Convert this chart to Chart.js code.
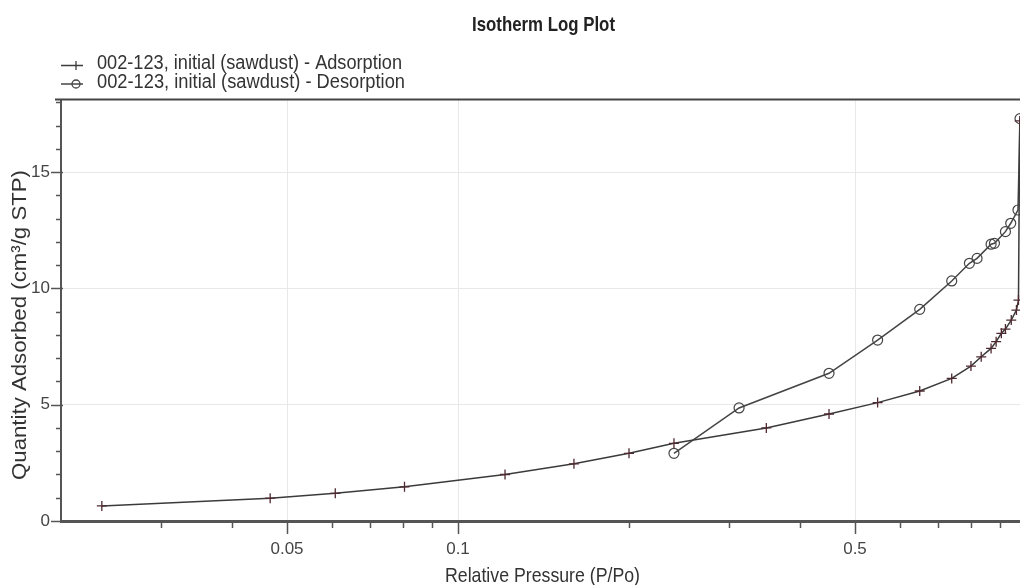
<!DOCTYPE html>
<html>
<head>
<meta charset="utf-8">
<script src="https://cdn.jsdelivr.net/npm/chart.js@4.4.1/dist/chart.umd.min.js"></script>
<style>
html,body{margin:0;padding:0;background:#fff;}
#wrap{width:1020px;height:585px;position:relative;}
</style>
</head>
<body>
<div id="wrap"><canvas id="c" width="1020" height="585"></canvas></div>
<script>
// ---------- data ----------
const chartTitle = 'Isotherm Log Plot';
const xAxisTitle = 'Relative Pressure (P/Po)';
const yAxisTitle = 'Quantity Adsorbed (cm³/g STP)';
const seriesNames = ['002-123, initial (sawdust) - Adsorption', '002-123, initial (sawdust) - Desorption'];

const adsorptionP = [0.0236, 0.0467, 0.0608, 0.0805, 0.121, 0.160, 0.200, 0.240, 0.349, 0.450, 0.548, 0.650, 0.740, 0.800, 0.834, 0.868, 0.886, 0.905, 0.920, 0.942, 0.962, 0.970, 0.975];
const adsorptionQ = [0.65, 0.98, 1.19, 1.47, 2.00, 2.46, 2.91, 3.34, 4.00, 4.60, 5.09, 5.59, 6.13, 6.66, 7.06, 7.42, 7.71, 8.07, 8.25, 8.64, 9.07, 9.50, 17.2];

const desorptionP = [0.976, 0.968, 0.940, 0.920, 0.880, 0.868, 0.820, 0.795, 0.740, 0.650, 0.548, 0.450, 0.3125, 0.240];
const desorptionQ = [17.3, 13.37, 12.80, 12.44, 11.94, 11.90, 11.29, 11.08, 10.32, 9.10, 7.78, 6.35, 4.86, 2.91];

const xMajorTicks = [0.05, 0.1, 0.5];
const xMinorTicks = [0.03, 0.04, 0.06, 0.07, 0.08, 0.09, 0.2, 0.3, 0.4, 0.6, 0.7, 0.8, 0.9];
const yMajorTicks = [0, 5, 10, 15];
const yMinorTicks = [1, 2, 3, 4, 6, 7, 8, 9, 11, 12, 13, 14, 16, 17, 18];

// ---------- font helpers ----------
function hasFont(name) {
  const c = document.createElement('canvas').getContext('2d');
  const s = 'abcdefghijklmnopqrstuvwxyz0123456789';
  c.font = '20px monospace';
  const a = c.measureText(s).width;
  c.font = '20px "' + name + '", monospace';
  const b = c.measureText(s).width;
  return Math.abs(a - b) > 0.5;
}
const narrow = hasFont('Liberation Sans Narrow');
const tickFont = narrow ? {family: '"Liberation Sans Narrow", "Liberation Sans", Arial, sans-serif', size: 18}
                        : {family: '"Liberation Sans", Arial, sans-serif', size: 17};

function drawScaledText(ctx, text, o) {
  ctx.save();
  ctx.font = (o.bold ? 'bold ' : '') + o.size + 'px "Liberation Sans", Arial, sans-serif';
  const w = ctx.measureText(text).width;
  ctx.translate(o.x, o.y);
  if (o.rotate) ctx.rotate(o.rotate);
  ctx.scale(o.width / w, 1);
  ctx.textBaseline = 'alphabetic';
  ctx.textAlign = 'left';
  ctx.fillStyle = o.color || '#333';
  ctx.fillText(text, 0, 0);
  ctx.restore();
}

const decor = {
  id: 'decor',
  afterDraw(chart) {
    const ctx = chart.ctx;
    const xs = chart.scales.x, ys = chart.scales.y;
    const area = chart.chartArea;
    ctx.save();
    // top frame line
    ctx.strokeStyle = '#444';
    ctx.lineWidth = 2;
    ctx.beginPath();
    ctx.moveTo(55, area.top - 0.5);
    ctx.lineTo(chart.width, area.top - 0.5);
    ctx.stroke();
    // y tick marks
    ctx.strokeStyle = '#555';
    ctx.lineWidth = 1.5;
    yMajorTicks.concat(yMinorTicks).forEach(v => {
      const y = Math.round(ys.getPixelForValue(v)) + 0.5;
      const major = yMajorTicks.includes(v);
      ctx.beginPath();
      ctx.moveTo(area.left - (major ? 10 : 5), y);
      ctx.lineTo(area.left + (major ? 2 : 0), y);
      ctx.stroke();
    });
    // x tick marks
    xMajorTicks.concat(xMinorTicks).forEach(v => {
      const x = Math.round(xs.getPixelForValue(v)) + 0.5;
      const major = xMajorTicks.includes(v);
      ctx.beginPath();
      ctx.moveTo(x, area.bottom);
      ctx.lineTo(x, area.bottom + (major ? 13 : 7));
      ctx.stroke();
    });
    ctx.restore();

    // title
    drawScaledText(ctx, chartTitle, {x: 472, y: 30.5, size: 21, bold: true, width: 143, color: '#222'});
    // legend
    const rows = [{y: 65.5, text: seriesNames[0], w: 305, base: 68.5, marker: 'cross', color: '#3b3b3b'},
                  {y: 84, text: seriesNames[1], w: 308, base: 87.5, marker: 'circle', color: '#444'}];
    rows.forEach(r => {
      ctx.save();
      ctx.strokeStyle = r.color;
      ctx.lineWidth = 1.5;
      ctx.beginPath();
      ctx.moveTo(61, r.y);
      ctx.lineTo(83, r.y);
      ctx.stroke();
      ctx.lineWidth = 1.3;
      ctx.beginPath();
      if (r.marker === 'cross') {
        ctx.moveTo(76, r.y - 4.5);
        ctx.lineTo(76, r.y + 4.5);
      } else {
        ctx.arc(76, r.y, 4, 0, Math.PI * 2);
      }
      ctx.stroke();
      ctx.restore();
      drawScaledText(ctx, r.text, {x: 97, y: r.base, size: 19.5, width: r.w, color: '#333'});
    });
    // axis titles
    drawScaledText(ctx, xAxisTitle, {x: 445, y: 581.5, size: 21, width: 195, color: '#333'});
    drawScaledText(ctx, yAxisTitle, {x: 26, y: 480, size: 21, width: 310, rotate: -Math.PI / 2, color: '#333'});
  }
};

const adsData = adsorptionP.map((p, i) => ({x: p, y: adsorptionQ[i]}));
const desData = desorptionP.map((p, i) => ({x: p, y: desorptionQ[i]}));

new Chart(document.getElementById('c'), {
  type: 'scatter',
  data: {
    datasets: [
      {
        label: seriesNames[0],
        data: adsData,
        showLine: true,
        borderColor: '#3b3b3b',
        borderWidth: 1.5,
        pointStyle: 'cross',
        pointRadius: 5,
        pointBorderColor: '#4e2a30',
        pointBorderWidth: 1.3,
        pointBackgroundColor: 'rgba(0,0,0,0)',
        tension: 0
      },
      {
        label: seriesNames[1],
        data: desData,
        showLine: true,
        borderColor: '#444',
        borderWidth: 1.5,
        pointStyle: 'circle',
        pointRadius: 5,
        pointBorderColor: '#444',
        pointBorderWidth: 1.2,
        pointBackgroundColor: 'rgba(0,0,0,0)',
        tension: 0
      }
    ]
  },
  options: {
    responsive: false,
    devicePixelRatio: 1,
    animation: false,
    layout: {autoPadding: false, padding: {top: 100, left: 0, right: 0, bottom: 0}},
    plugins: {legend: {display: false}, title: {display: false}, tooltip: {enabled: false}},
    scales: {
      x: {
        type: 'logarithmic',
        min: 0.02,
        max: 0.976,
        afterBuildTicks: s => { s.ticks = xMajorTicks.map(v => ({value: v})); },
        afterFit: s => { s.height = 64; },
        ticks: {
          autoSkip: false, maxRotation: 0, padding: 18,
          color: '#444', font: tickFont,
          callback: v => (xMajorTicks.includes(v) ? String(v) : '')
        },
        grid: {color: '#e8e8e8', lineWidth: 1, drawTicks: false},
        border: {display: true, color: '#555', width: 3}
      },
      y: {
        type: 'linear',
        min: 0,
        max: 18.1,
        afterBuildTicks: s => { s.ticks = yMajorTicks.map(v => ({value: v})); },
        afterFit: s => { s.width = 61; },
        ticks: {padding: 11, color: '#444', font: tickFont, callback: v => String(v)},
        grid: {color: c => (c.tick && c.tick.value === 0 ? 'rgba(0,0,0,0)' : '#e8e8e8'), lineWidth: 1, drawTicks: false},
        border: {display: true, color: '#555', width: 2}
      }
    }
  },
  plugins: [decor]
});
</script>
</body>
</html>
